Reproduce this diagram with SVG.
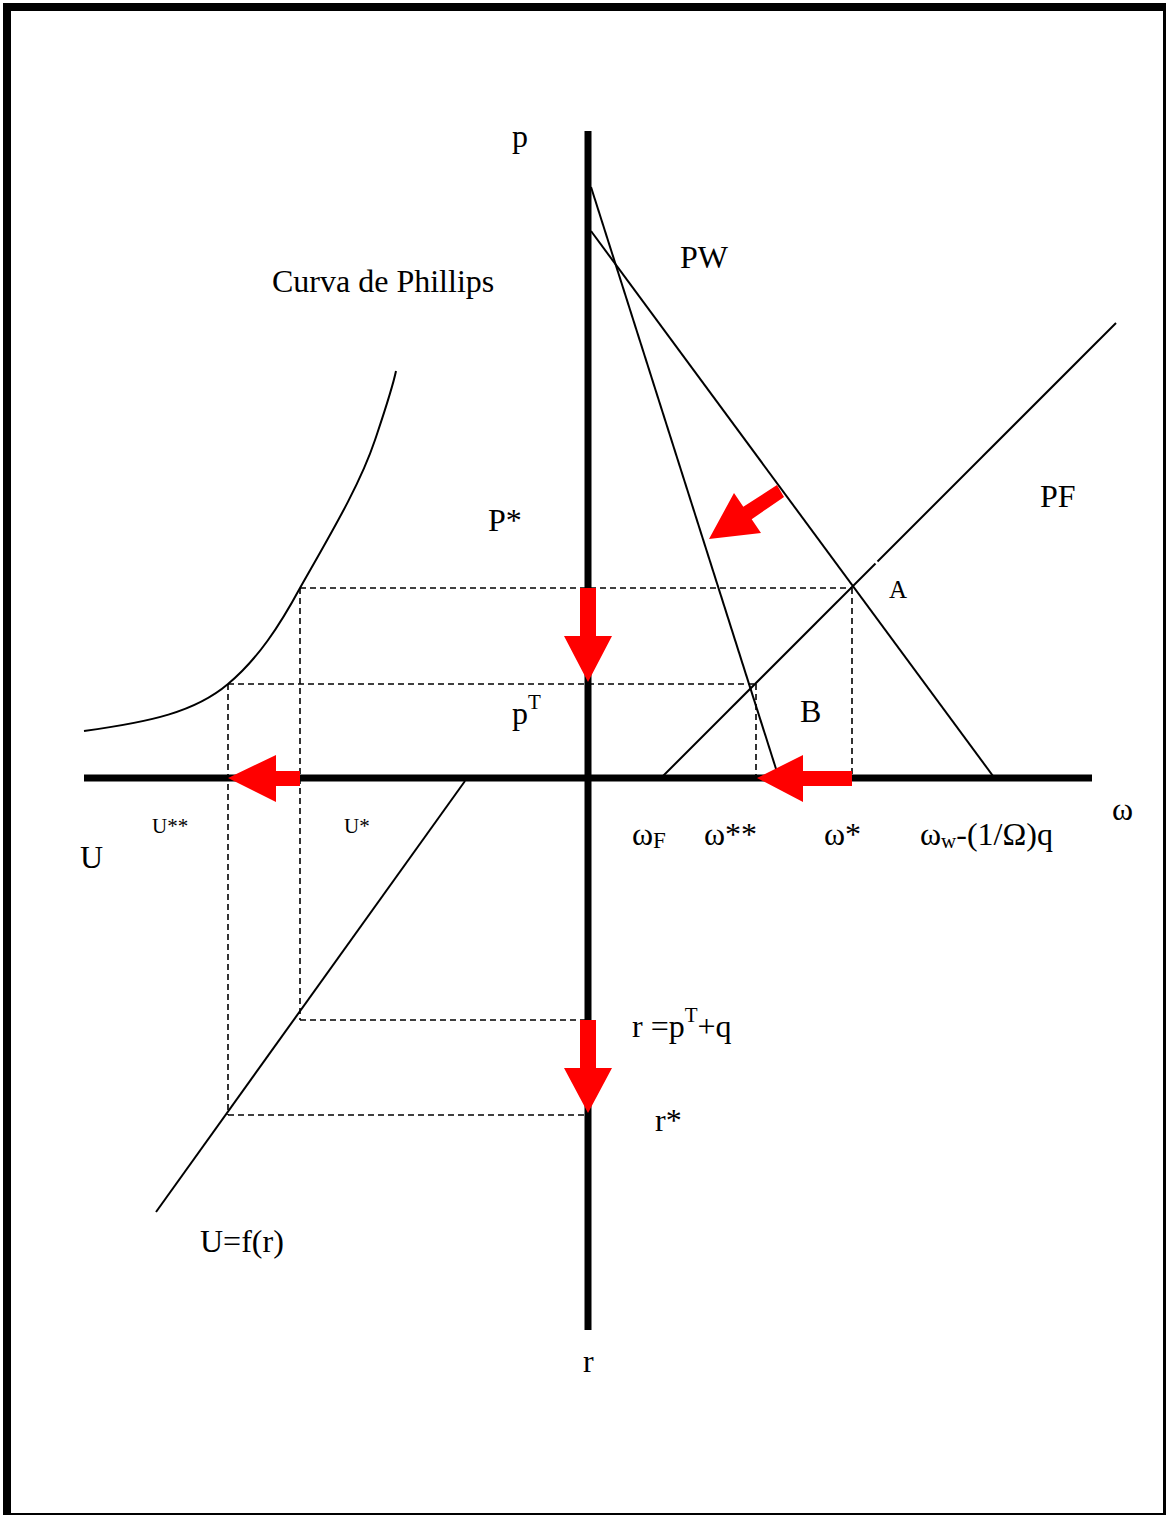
<svg xmlns="http://www.w3.org/2000/svg" width="1166" height="1515" viewBox="0 0 1166 1515">
<style>
text{font-family:"Liberation Serif","Times New Roman",serif;fill:#000}
.ln{stroke:#000;stroke-width:2;fill:none}
.ax{stroke:#000;stroke-width:7;fill:none}
.dash{stroke:#000;stroke-width:1.6;stroke-dasharray:6,4;fill:none}
.arr{fill:#ff0000;stroke:none}
</style>
<rect x="0" y="0" width="1166" height="1515" fill="#fff"/>
<rect x="7" y="7" width="1160" height="1510" fill="none" stroke="#000" stroke-width="8"/>
<g id="axes">
<line class="ax" x1="588" y1="131" x2="588" y2="1330"/>
<line class="ax" x1="84" y1="778" x2="1092" y2="778"/>
</g>
<g id="curves">
<line id="pw1" class="ln" x1="591" y1="187" x2="777" y2="772"/>
<line id="pw2" class="ln" x1="591" y1="231" x2="993" y2="776"/>
<line id="pf" class="ln" x1="663" y1="776" x2="1116" y2="323"/>
<line stroke="#fff" stroke-width="4" x1="875.5" y1="563.5" x2="877.5" y2="561.5"/>
<line id="uf" class="ln" x1="465" y1="781" x2="156" y2="1212"/>
<path id="phillips" class="ln" d="M84,731 C150,722 195,712 228,684 C258,659 280,625 300,588 C330,535 360,485 375,440 C382,419 392,390 396,371"/>
</g>
<g id="connectors">
<line class="dash" x1="300" y1="588" x2="852" y2="588"/>
<line class="dash" x1="852" y1="588" x2="852" y2="778"/>
<line class="dash" x1="228" y1="684" x2="756" y2="684"/>
<line class="dash" x1="756" y1="684" x2="756" y2="778"/>
<line class="dash" x1="300" y1="588" x2="300" y2="1020"/>
<line class="dash" x1="228" y1="684" x2="228" y2="1115"/>
<line class="dash" x1="300" y1="1020" x2="588" y2="1020"/>
<line class="dash" x1="228" y1="1115" x2="588" y2="1115"/>
</g>
<g id="arrows">
<polygon class="arr" points="580,588 596,588 596,636 612,636 588,682 564,636 580,636"/>
<polygon class="arr" points="580,1020 596,1020 596,1068 612,1068 588,1113 564,1068 580,1068"/>
<polygon class="arr" points="852,771 852,786 803,786 803,802 757,778 803,755 803,771"/>
<polygon class="arr" points="300,771 300,786 276,786 276,802 228,778 276,755 276,771"/>
<polygon class="arr" points="777,485 784,497 751.7,519.2 761,533 709,539 734,493 743.3,506.8"/>
</g>
<g id="labels" font-size="32">
<text x="512" y="147">p</text>
<text x="680" y="268">PW</text>
<text x="272" y="292">Curva de Phillips</text>
<text x="1040" y="507">PF</text>
<text x="488" y="531">P*</text>
<text x="889" y="598" font-size="25">A</text>
<text x="512" y="724">p<tspan font-size="21" dy="-15">T</tspan></text>
<text x="800" y="722">B</text>
<text x="1112" y="820">ω</text>
<text x="632" y="845">ω<tspan font-size="23" dy="3">F</tspan></text>
<text x="704" y="845">ω**</text>
<text x="824" y="845">ω*</text>
<text x="920" y="845">ω<tspan font-size="21" dy="3">w</tspan><tspan dy="-3">-(1/Ω)q</tspan></text>
<text x="152" y="833" font-size="21">U**</text>
<text x="344" y="833" font-size="21">U*</text>
<text x="80" y="868">U</text>
<text x="632" y="1037">r =p<tspan font-size="21" dy="-15">T</tspan><tspan dy="15">+q</tspan></text>
<text x="655" y="1131">r*</text>
<text x="200" y="1252">U=f(r)</text>
<text x="583" y="1372">r</text>
</g>
</svg>
